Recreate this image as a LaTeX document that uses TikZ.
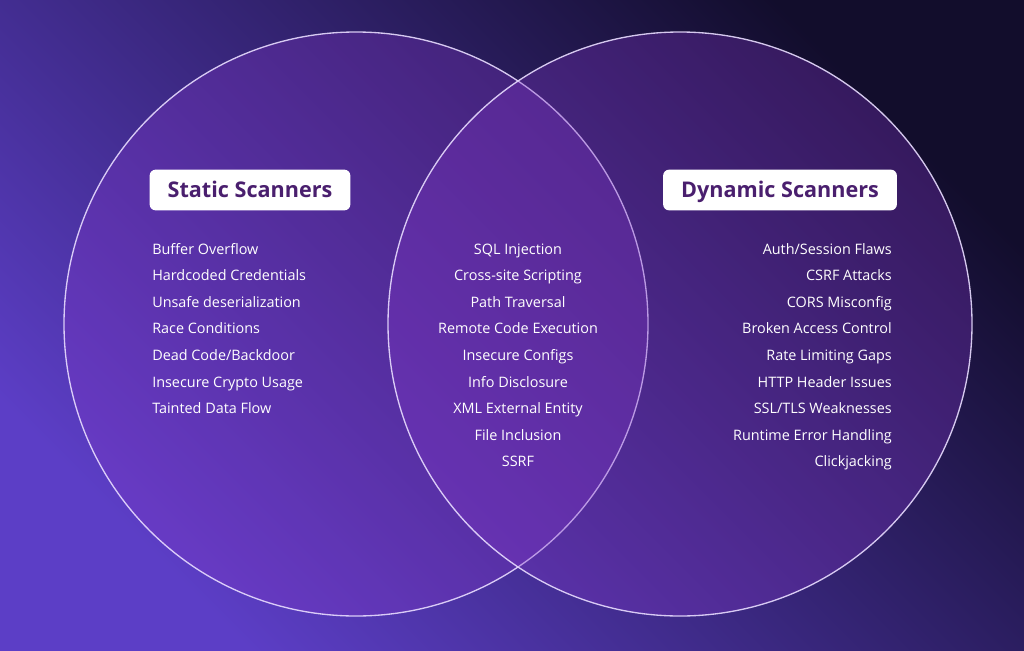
\documentclass[tikz,border=0pt]{standalone}
\usepackage{fontspec}
\setmainfont{Open Sans}
\usepackage{xcolor}

\definecolor{bgbright}{HTML}{5C3EC6}
\definecolor{bgmid}{HTML}{33247C}
\definecolor{bgnight}{HTML}{120D2C}
\definecolor{vennfill}{HTML}{8236C8}
\definecolor{ringline}{HTML}{E8DCFF}
\definecolor{titleink}{HTML}{4A1F6E}

\begin{document}
\begin{tikzpicture}[
    x=0.75pt, y=-0.75pt,
    vennring/.style={draw=ringline, line width=1pt, fill=vennfill, fill opacity=0.32, draw opacity=0.9},
    titlebox/.style={rectangle, fill=white, rounded corners=4.5pt, inner xsep=13.5pt, text height=12pt, text depth=0.5pt, minimum height=30.5pt, text=titleink, font=\fontsize{16.2}{19}\selectfont\bfseries},
    item/.style={text=white, inner sep=0pt, font=\fontsize{10.8}{13}\selectfont}
]

% Background
\shade[left color=bgbright, middle color=bgmid, right color=bgnight, shading angle=135] (0,0) rectangle (1024,650);
\useasboundingbox (0,0) rectangle (1024,650);

% Circles
\coordinate (lc) at (356,324);
\coordinate (rc) at (680,324);
\draw[vennring] (lc) circle[radius=219pt];
\draw[vennring] (rc) circle[radius=219pt];

% Titles
\node[titlebox] (static) at (250,190) {Static Scanners};
\node[titlebox] (dynamic) at (780,190) {Dynamic Scanners};

% Static only
\foreach \txt [count=\i] in {Buffer Overflow, Hardcoded Credentials, Unsafe deserialization, Race Conditions, Dead Code/Backdoor, Insecure Crypto Usage, Tainted Data Flow}
  \node[item, anchor=base west] (st\i) at (152,{254+26.6*(\i-1)}) {\txt};

% Both
\foreach \txt [count=\i] in {SQL Injection, Cross-site Scripting, Path Traversal, Remote Code Execution, Insecure Configs, Info Disclosure, XML External Entity, File Inclusion, SSRF}
  \node[item, anchor=base] (bo\i) at (518,{254+26.6*(\i-1)}) {\txt};

% Dynamic only
\foreach \txt [count=\i] in {Auth/Session Flaws, CSRF Attacks, CORS Misconfig, Broken Access Control, Rate Limiting Gaps, HTTP Header Issues, SSL/TLS Weaknesses, Runtime Error Handling, Clickjacking}
  \node[item, anchor=base east] (dy\i) at (892,{254+26.6*(\i-1)}) {\txt};

\end{tikzpicture}
\end{document}
